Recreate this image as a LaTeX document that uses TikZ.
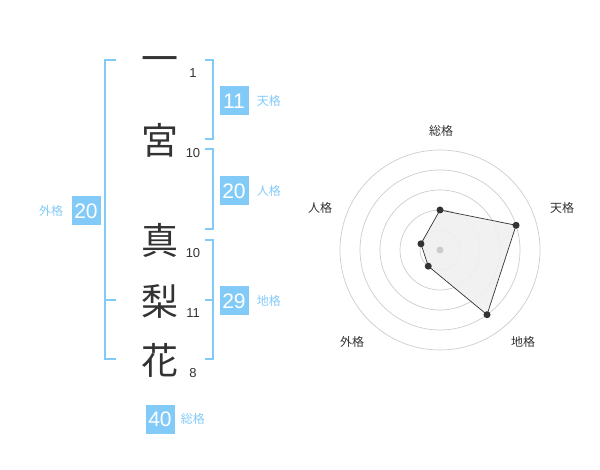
\documentclass[tikz,border=0pt]{standalone}
\usepackage{fontspec}
\setmainfont{Liberation Sans}
\newfontfamily\jp{Noto Sans CJK JP}
\usetikzlibrary{positioning}

\definecolor{kakublue}{HTML}{82CBF9}
\definecolor{inkgray}{HTML}{333333}
\definecolor{ringgray}{HTML}{CCCCCC}

\tikzset{
    moji/.style={text=inkgray, font=\jp\fontsize{37}{37}\selectfont, inner sep=0pt,
        text height=0.88em, text depth=0.12em},
    kakusu/.style={text=inkgray, font=\fontsize{13}{13}\selectfont, inner sep=0pt},
    numbox/.style={fill=kakublue, text=white, minimum size=29pt, inner sep=0pt, font=\fontsize{21}{21}\selectfont},
    kakuname/.style={text=kakublue, font=\jp\fontsize{12}{12}\selectfont, inner sep=0pt},
    radarname/.style={text=inkgray, font=\jp\fontsize{12}{12}\selectfont, inner sep=0pt},
    bracket/.style={draw=kakublue, line width=2pt},
    dot/.style={circle, fill=inkgray, inner sep=0pt, minimum size=7pt}
}

\begin{document}
\begin{tikzpicture}[x=1pt, y=-1pt]
        \useasboundingbox (0,0) rectangle (600,470);

        % Name characters
        \node[moji] (ichi) at (160, 69) {一};
        \node[moji] (miya) at (160, 151) {宮};
        \node[moji] (ma) at (160, 251) {真};
        \node[moji] (ri) at (160, 312) {梨};
        \node[moji] (ka) at (160, 371) {花};

        % Stroke counts
        \node[kakusu] (ichi-n) at (193, 73) {1};
        \node[kakusu] (miya-n) at (193, 153) {10};
        \node[kakusu] (ma-n) at (193, 253) {10};
        \node[kakusu] (ri-n) at (193, 313) {11};
        \node[kakusu] (ka-n) at (193, 373) {8};

        % Outer bracket
        \draw[bracket] (116,60) -- (105,60) -- (105,359) -- (116,359);
        \draw[bracket] (105,300) -- (116,300);

        % Right brackets
        \draw[bracket] (205,60) -- (213,60) -- (213,139) -- (205,139);
        \draw[bracket] (205,149) -- (213,149) -- (213,229) -- (205,229);
        \draw[bracket] (205,240) -- (213,240) -- (213,359) -- (205,359);
        \draw[bracket] (205,300) -- (213,300);

        % Scores
        \node[numbox] (ten) at (234, 101) {11};
        \node[kakuname, right=8pt of ten] {天格};
        \node[numbox] (jin) at (234, 191) {20};
        \node[kakuname, right=8pt of jin] {人格};
        \node[numbox] (chi) at (234, 301) {29};
        \node[kakuname, right=8pt of chi] {地格};
        \node[numbox] (gai) at (86, 211) {20};
        \node[kakuname, left=8pt of gai] {外格};
        \node[numbox] (sou) at (160, 419) {40};
        \node[kakuname, right=6pt of sou] {総格};

        % Radar rings
        \coordinate (center) at (440, 250);
        \foreach \r in {20, 40, 60, 80, 100} {
            \draw[ringgray, line width=0.7pt] (center) circle[radius=\r pt];
        }

        % Radar area
        \path (center) ++(90:40pt) coordinate (p-sou)
              (center) ++(18:80pt) coordinate (p-ten)
              (center) ++(-54:80pt) coordinate (p-chi)
              (center) ++(-126:20pt) coordinate (p-gai)
              (center) ++(162:20pt) coordinate (p-jin);
        \draw[inkgray, fill=black!6, fill opacity=0.9, line width=0.7pt]
            (p-sou) -- (p-ten) -- (p-chi) -- (p-gai) -- (p-jin) -- cycle;
        \node[circle, fill=ringgray, inner sep=0pt, minimum size=7pt] at (center) {};
        \foreach \p in {sou, ten, chi, gai, jin} {
            \node[dot] at (p-\p) {};
        }

        % Radar labels
        \node[radarname] (r-sou) at (441, 131) {総格};
        \node[radarname] (r-ten) at (562, 208) {天格};
        \node[radarname] (r-chi) at (523, 342) {地格};
        \node[radarname] (r-gai) at (352, 342) {外格};
        \node[radarname] (r-jin) at (320, 208) {人格};
    \end{tikzpicture}
\end{document}
